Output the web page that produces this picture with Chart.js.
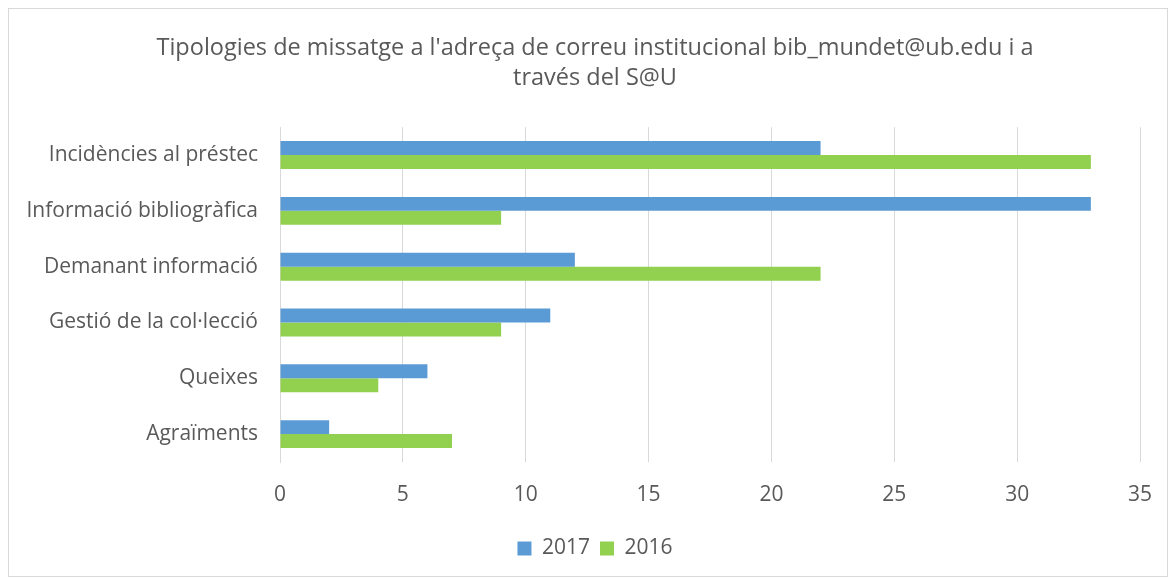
<!DOCTYPE html>
<html>
<head>
<meta charset="utf-8">
<script src="https://cdn.jsdelivr.net/npm/chart.js@4"></script>
<style>
  body { margin: 0; background: #fff; }
  #wrap { position: absolute; left: 8px; top: 8px; width: 1160px; height: 569px; border: 1px solid #d9d9d9; box-sizing: border-box; }
</style>
</head>
<body>
<div id="wrap"><canvas id="chart"></canvas></div>
<script>
const categories = ['Incidències al préstec', 'Informació bibliogràfica', 'Demanant informació', 'Gestió de la col·lecció', 'Queixes', 'Agraïments'];
const values2017 = [22, 33, 12, 11, 6, 2];
const values2016 = [33, 9, 22, 9, 4, 7];
const titleLines = ["Tipologies de missatge a l'adreça de correu institucional bib_mundet@ub.edu i a", 'través del S@U'];

document.addEventListener("DOMContentLoaded", () => {
    const font = "'Open Sans', sans-serif";
    const ctx = document.getElementById('chart').getContext('2d');
    new Chart(ctx, {
        type: 'bar',
        data: {
            labels: categories,
            datasets: [{
                label: '2017',
                data: values2017,
                backgroundColor: '#5b9bd5',
                categoryPercentage: 0.5,
                barPercentage: 1.0
            }, {
                label: '2016',
                data: values2016,
                backgroundColor: '#92d050',
                categoryPercentage: 0.5,
                barPercentage: 1.0
            }]
        },
        options: {
            indexAxis: 'y',
            responsive: true,
            maintainAspectRatio: false,
            animation: false,
            layout: { padding: { left: 16, right: 2, top: 0, bottom: 7 } },
            plugins: {
                title: {
                    display: true,
                    text: titleLines,
                    color: '#595959',
                    font: { family: font, size: 23.5, weight: 'normal', lineHeight: 1.28 },
                    padding: { top: 24, bottom: 34 }
                },
                legend: {
                    position: 'bottom',
                    labels: {
                        color: '#595959',
                        font: { family: font, size: 21 },
                        boxWidth: 14,
                        boxHeight: 14,
                        padding: 10
                    }
                },
                tooltip: { enabled: false }
            },
            scales: {
                x: {
                    min: 0,
                    max: 35,
                    ticks: { stepSize: 5, color: '#595959', font: { family: font, size: 21 }, padding: 20 },
                    grid: { color: '#d9d9d9', lineWidth: 1, drawTicks: false },
                    border: { display: false },
                    afterFit: (scale) => { scale.height = 66; scale.paddingRight = 27; }
                },
                y: {
                    ticks: { color: '#595959', font: { family: font, size: 21 }, padding: 22 },
                    grid: { display: false, drawTicks: false },
                    border: { display: true, color: '#d9d9d9', width: 1 },
                    afterFit: (scale) => { scale.width = 255; }
                }
            }
        }
    });
});
</script>
</body>
</html>
